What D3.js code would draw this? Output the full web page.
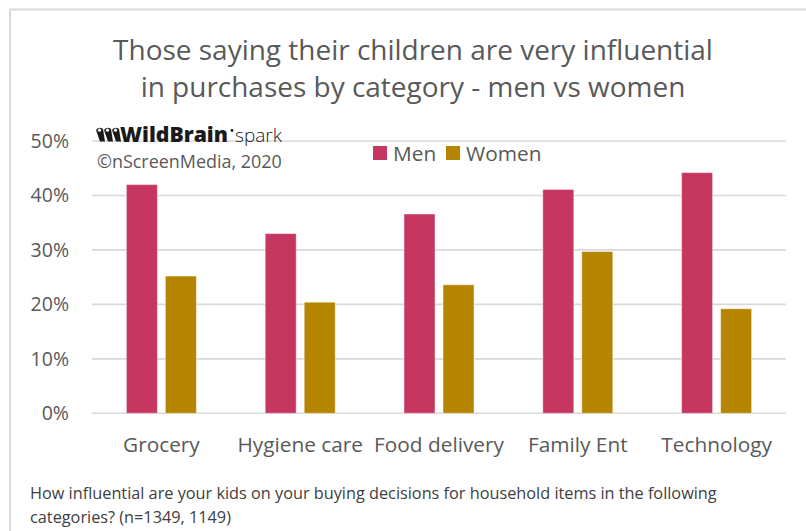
<!DOCTYPE html>
<html>
<head>
<meta charset="utf-8">
<script src="https://cdn.jsdelivr.net/npm/d3@7"></script>
<style>
  html, body { margin: 0; padding: 0; background: #fff; }
  svg { display: block; }
  text { font-family: "Open Sans", "Noto Sans", sans-serif; }
</style>
</head>
<body>
<svg id="chart" width="806" height="531"></svg>
<script>
// Share of parents saying their children are very influential, by category
const categories = ["Grocery", "Hygiene care", "Food delivery", "Family Ent", "Technology"];
const seriesNames = ["Men", "Women"];
const men   = [0.42, 0.33, 0.366, 0.411, 0.442];
const women = [0.252, 0.204, 0.236, 0.297, 0.192];
const yTicks = [0, 0.1, 0.2, 0.3, 0.4, 0.5];
const colors = ["#C53761", "#B68500"];
const titleLines = ["Those saying their children are very influential",
                    "in purchases by category - men vs women"];
const footLines = ["How influential are your kids on your buying decisions for household items in the following",
                   "categories? (n=1349, 1149)"];

const svg = d3.select("#chart");
const W = 806, H = 531;
const plot = { left: 92, right: 786, top: 141, bottom: 413.3 };

// font size that makes a text node span the wanted width
function sizeFor(node, width) {
  const fs = parseFloat(node.getAttribute("font-size"));
  const len = node.getComputedTextLength();
  return len > 0 ? fs * width / len : fs;
}
function fitWidth(node, width) {
  node.setAttribute("font-size", sizeFor(node, width).toFixed(2));
}

// frame of the chart panel
svg.append("line").attr("x1", 10).attr("x2", W).attr("y1", 9.5).attr("y2", 9.5)
  .attr("stroke", "#d9d9d9").attr("stroke-width", 2);
svg.append("line").attr("x1", 10).attr("x2", 10).attr("y1", 9.5).attr("y2", H)
  .attr("stroke", "#d9d9d9").attr("stroke-width", 2);

// title
const title = svg.append("g").selectAll("text").data(titleLines).join("text")
  .attr("x", 413).attr("y", (d, i) => 60 + i * 37)
  .attr("text-anchor", "middle")
  .attr("font-size", 27.5).attr("fill", "#595959")
  .text(d => d);
title.attr("font-size", sizeFor(title.nodes()[0], 600).toFixed(2));

const x = d3.scaleBand().domain(categories).range([plot.left, plot.right]).paddingInner(0).paddingOuter(0);
const x1 = d3.scaleBand().domain(seriesNames).range([0, x.bandwidth()]).paddingInner(0.205).paddingOuter(0.882);
const y = d3.scaleLinear().domain([0, 0.5]).range([plot.bottom, plot.top]);

// gridlines
svg.append("g").selectAll("line").data(yTicks).join("line")
  .attr("x1", plot.left).attr("x2", plot.right)
  .attr("y1", d => y(d)).attr("y2", d => y(d))
  .attr("stroke", "#d9d9d9").attr("stroke-width", 1.6);

// y axis labels
const yAxis = d3.axisLeft(y).tickValues(yTicks).tickFormat(d3.format(".0%")).tickSize(0).tickPadding(0);
const yg = svg.append("g").attr("transform", `translate(69,0)`).call(yAxis);
yg.select(".domain").remove();
yg.selectAll("text").attr("font-size", 19.5).attr("fill", "#595959")
  .attr("font-family", '"Open Sans", sans-serif');

// x axis labels
const xAxis = d3.axisBottom(x).tickSize(0).tickPadding(0);
const xg = svg.append("g").attr("transform", `translate(0,${plot.bottom + 24})`).call(xAxis);
xg.select(".domain").remove();
xg.selectAll("text").attr("font-size", 20.8).attr("fill", "#595959")
  .attr("font-family", '"Open Sans", sans-serif');

// watermark: WildBrain spark logo and credit
const logo = svg.append("g").attr("transform", "translate(96,127)");
const eyes = logo.append("g").attr("fill", "#1a1a1a");
[0, 8, 16].forEach(dx => {
  eyes.append("path")
    .attr("d", `M${dx},3 Q${dx + 3},-1 ${dx + 7},2 L${dx + 9},14.5 L${dx + 4},14.5 Z`);
  eyes.append("circle").attr("cx", dx + 3.5).attr("cy", 3.2).attr("r", 1.6).attr("fill", "#fff");
});
const wb = logo.append("text").attr("x", 24).attr("y", 14.5)
  .attr("font-size", 19).attr("font-weight", 800).attr("fill", "#1a1a1a")
  .attr("font-family", '"Open Sans", sans-serif')
  .text("WildBrain");
fitWidth(wb.node(), 108);
logo.append("circle").attr("cx", 136).attr("cy", 3.5).attr("r", 1.4).attr("fill", "#1a1a1a");
const sp = logo.append("text").attr("x", 139).attr("y", 14.5)
  .attr("font-size", 19).attr("font-weight", 300).attr("fill", "#1a1a1a")
  .attr("font-family", '"Lato", "Open Sans", sans-serif')
  .text("spark");
fitWidth(sp.node(), 47);
const credit = svg.append("text").attr("x", 97).attr("y", 168)
  .attr("font-size", 18).attr("fill", "#595959")
  .text("©nScreenMedia, 2020");
fitWidth(credit.node(), 185);

// bars
const rows = categories.map((c, i) => ({ cat: c, vals: [men[i], women[i]] }));
const groups = svg.append("g").selectAll("g").data(rows).join("g")
  .attr("transform", d => `translate(${x(d.cat)},0)`);
groups.selectAll("rect").data(d => d.vals.map((v, j) => ({ key: seriesNames[j], v, j })))
  .join("rect")
  .attr("x", d => x1(d.key))
  .attr("width", x1.bandwidth())
  .attr("y", d => y(d.v))
  .attr("height", d => y(0) - y(d.v))
  .attr("fill", d => colors[d.j])
  .attr("stroke", "rgba(255,255,255,0.45)").attr("stroke-width", 1);

// legend
const legend = svg.append("g").attr("transform", "translate(373,146)");
const legX = [0, 73];
seriesNames.forEach((s, i) => {
  legend.append("rect").attr("x", legX[i]).attr("y", 0).attr("width", 14).attr("height", 14)
    .attr("fill", colors[i]);
  legend.append("text").attr("x", legX[i] + 20).attr("y", 14.5)
    .attr("font-size", 20.8).attr("fill", "#595959").text(s);
});

// footnote
const foot = svg.append("g").selectAll("text").data(footLines).join("text")
  .attr("x", 30).attr("y", (d, i) => 499 + i * 24)
  .attr("font-size", 14.5).attr("fill", "#404040")
  .attr("font-family", '"Open Sans", sans-serif')
  .text(d => d);
// both lines share the size that makes the first one span its full measure
foot.attr("font-size", sizeFor(foot.nodes()[0], 687).toFixed(2));
</script>
</body>
</html>
